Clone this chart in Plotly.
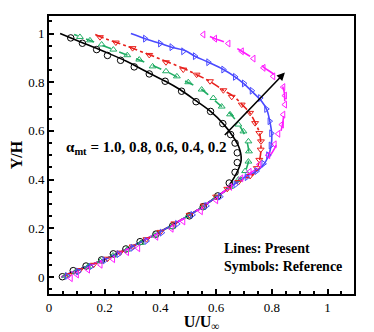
import plotly.graph_objects as go

# Lines (present) -- U/U_inf and Y/H, wall -> top
u_line_10 = [0.045, 0.09, 0.14, 0.19, 0.24, 0.29, 0.34, 0.39, 0.44, 0.49, 0.54, 0.59, 0.63,
             0.652, 0.675, 0.69, 0.683, 0.66, 0.625, 0.58, 0.53, 0.47, 0.42, 0.36, 0.28, 0.2, 0.12, 0.04]
y_line_10 = [0.0, 0.022, 0.045, 0.068, 0.093, 0.12, 0.15, 0.18, 0.212, 0.245, 0.28, 0.32, 0.352,
             0.385, 0.43, 0.48, 0.53, 0.578, 0.63, 0.68, 0.722, 0.77, 0.803, 0.837, 0.885, 0.925, 0.962, 1.0]

u_line_08 = [0.045, 0.09, 0.14, 0.19, 0.24, 0.29, 0.34, 0.39, 0.44, 0.49, 0.54, 0.59, 0.63,
             0.665, 0.695, 0.71, 0.718, 0.714, 0.698, 0.68, 0.65, 0.615, 0.58, 0.548, 0.48, 0.42,
             0.32, 0.23, 0.15, 0.09]
y_line_08 = [0.0, 0.022, 0.045, 0.068, 0.093, 0.12, 0.15, 0.18, 0.212, 0.245, 0.28, 0.32, 0.352,
             0.385, 0.415, 0.45, 0.49, 0.54, 0.595, 0.628, 0.672, 0.705, 0.74, 0.77, 0.81, 0.845,
             0.893, 0.934, 0.97, 0.996]

u_line_06 = [0.045, 0.09, 0.14, 0.19, 0.24, 0.29, 0.34, 0.39, 0.44, 0.49, 0.54, 0.59, 0.63,
             0.67, 0.705, 0.733, 0.748, 0.757, 0.761, 0.756, 0.742, 0.722, 0.695, 0.665, 0.626,
             0.578, 0.53, 0.48, 0.38, 0.27, 0.2, 0.158]
y_line_06 = [0.0, 0.022, 0.045, 0.068, 0.093, 0.12, 0.15, 0.18, 0.212, 0.245, 0.28, 0.32, 0.352,
             0.385, 0.405, 0.42, 0.45, 0.485, 0.53, 0.59, 0.63, 0.672, 0.706, 0.74, 0.767,
             0.803, 0.831, 0.858, 0.904, 0.952, 0.98, 1.0]

u_line_04 = [0.045, 0.09, 0.14, 0.19, 0.24, 0.29, 0.34, 0.39, 0.44, 0.49, 0.54, 0.59, 0.63,
             0.67, 0.71, 0.746, 0.77, 0.787, 0.797, 0.8, 0.794, 0.782, 0.764, 0.734, 0.698, 0.668,
             0.626, 0.572, 0.524, 0.488, 0.44, 0.4, 0.345, 0.294]
y_line_04 = [0.0, 0.022, 0.045, 0.068, 0.093, 0.12, 0.15, 0.18, 0.212, 0.245, 0.28, 0.32, 0.352,
             0.385, 0.415, 0.435, 0.461, 0.495, 0.536, 0.584, 0.632, 0.687, 0.721, 0.756, 0.795, 0.822,
             0.852, 0.882, 0.907, 0.93, 0.944, 0.959, 0.979, 1.0]

u_line_02 = [0.045, 0.09, 0.14, 0.19, 0.24, 0.29, 0.34, 0.39, 0.44, 0.49, 0.54, 0.59, 0.63,
             0.67, 0.692, 0.722, 0.758, 0.787, 0.811, 0.828, 0.838, 0.843, 0.846, 0.845, 0.832,
             0.81, 0.77, 0.734, 0.692, 0.644, 0.596, 0.553]
y_line_02 = [0.0, 0.022, 0.045, 0.068, 0.093, 0.12, 0.15, 0.18, 0.212, 0.245, 0.28, 0.32, 0.352,
             0.385, 0.406, 0.427, 0.454, 0.488, 0.53, 0.58, 0.626, 0.667, 0.71, 0.756, 0.8,
             0.83, 0.862, 0.897, 0.927, 0.959, 0.979, 1.0]

# Symbols (reference)
u_ref_10 = [0.048, 0.087, 0.133, 0.189, 0.231, 0.276, 0.327, 0.384, 0.444, 0.504, 0.554, 0.606, 0.647,
            0.668, 0.676, 0.676, 0.668, 0.652, 0.624, 0.58, 0.528, 0.476, 0.417, 0.36, 0.306, 0.257,
            0.21, 0.171, 0.12, 0.078]
y_ref_10 = [0.001, 0.026, 0.045, 0.07, 0.095, 0.115, 0.145, 0.176, 0.21, 0.251, 0.289, 0.333, 0.386,
            0.43, 0.47, 0.51, 0.55, 0.585, 0.63, 0.68, 0.72, 0.763, 0.804, 0.834, 0.863, 0.89,
            0.91, 0.934, 0.96, 0.982]

u_ref_08 = [0.06, 0.095, 0.14, 0.185, 0.23, 0.28, 0.33, 0.38, 0.44, 0.5, 0.55, 0.6, 0.65, 0.68,
            0.704, 0.716, 0.718, 0.716, 0.698, 0.68, 0.65, 0.62, 0.59, 0.548, 0.5, 0.459, 0.42,
            0.372, 0.324, 0.281, 0.231, 0.189, 0.147, 0.111]
y_ref_08 = [0.005, 0.02, 0.042, 0.065, 0.088, 0.112, 0.14, 0.17, 0.205, 0.25, 0.285, 0.325, 0.37, 0.4,
            0.435, 0.474, 0.516, 0.557, 0.598, 0.626, 0.668, 0.7, 0.735, 0.77, 0.8, 0.824, 0.845,
            0.865, 0.893, 0.911, 0.934, 0.955, 0.972, 0.986]

u_ref_06 = [0.07, 0.11, 0.16, 0.21, 0.255, 0.3, 0.35, 0.4, 0.45, 0.505, 0.555, 0.6, 0.64, 0.68,
            0.722, 0.746, 0.755, 0.76, 0.761, 0.755, 0.74, 0.722, 0.692, 0.656, 0.626, 0.578,
            0.53, 0.482, 0.42, 0.36, 0.3, 0.24, 0.183]
y_ref_06 = [0.008, 0.028, 0.05, 0.075, 0.1, 0.125, 0.155, 0.185, 0.22, 0.255, 0.293, 0.33, 0.362, 0.39,
            0.415, 0.447, 0.481, 0.523, 0.557, 0.591, 0.632, 0.674, 0.708, 0.74, 0.767, 0.804,
            0.831, 0.852, 0.882, 0.912, 0.94, 0.963, 0.985]

u_ref_04 = [0.065, 0.105, 0.15, 0.2, 0.25, 0.3, 0.35, 0.405, 0.46, 0.515, 0.565, 0.615, 0.67, 0.71,
            0.745, 0.77, 0.787, 0.796, 0.798, 0.792, 0.78, 0.758, 0.728, 0.7, 0.668, 0.626, 0.572,
            0.524, 0.482, 0.44, 0.399, 0.345]
y_ref_04 = [0.004, 0.022, 0.042, 0.068, 0.094, 0.12, 0.148, 0.182, 0.218, 0.255, 0.292, 0.33, 0.38, 0.41,
            0.435, 0.465, 0.5, 0.54, 0.59, 0.64, 0.69, 0.735, 0.765, 0.795, 0.822, 0.852, 0.882,
            0.907, 0.927, 0.944, 0.959, 0.979]

u_ref_02 = [0.078, 0.1, 0.14, 0.185, 0.23, 0.28, 0.32, 0.385, 0.44, 0.482, 0.545, 0.6, 0.65, 0.69,
            0.72, 0.755, 0.787, 0.81, 0.823, 0.836, 0.841, 0.847, 0.847, 0.841, 0.805, 0.77, 0.734,
            0.692, 0.644, 0.596, 0.554]
y_ref_02 = [-0.005, 0.01, 0.03, 0.05, 0.073, 0.102, 0.118, 0.165, 0.198, 0.228, 0.27, 0.315, 0.37, 0.405,
            0.432, 0.462, 0.5, 0.545, 0.588, 0.626, 0.667, 0.708, 0.745, 0.78, 0.824, 0.859, 0.897,
            0.927, 0.959, 0.979, 0.996]

colors = ["#000000", "#20ad64", "#e8201c", "#4a4aff", "#ff1cff"]
dashes = ["solid", "dash", "dashdot", "solid", "longdash"]
symbols = ["circle-open", "triangle-up-open", "triangle-down-open", "triangle-right-open", "triangle-left-open"]
sizes = [6.5, 6, 6, 6, 6]

lines = [(u_line_10, y_line_10), (u_line_08, y_line_08), (u_line_06, y_line_06),
         (u_line_04, y_line_04), (u_line_02, y_line_02)]
refs = [(u_ref_10, y_ref_10), (u_ref_08, y_ref_08), (u_ref_06, y_ref_06),
        (u_ref_04, y_ref_04), (u_ref_02, y_ref_02)]

serif = "Liberation Serif"

fig = go.Figure()

for (u, y), c, d in zip(lines, colors, dashes):
    fig.add_trace(go.Scatter(x=u, y=y, mode="lines", line=dict(color=c, width=1.6, dash=d, shape="spline"),
                             showlegend=False))

for (u, y), c, s, sz in zip(refs, colors, symbols, sizes):
    fig.add_trace(go.Scatter(x=u, y=y, mode="markers",
                             marker=dict(symbol=s, size=sz, color=c, line=dict(color=c, width=1)),
                             showlegend=False))

# Arrow showing increasing alpha_mt direction
fig.add_annotation(x=0.847, y=0.84, ax=0.626, ay=0.577, xref="x", yref="y", axref="x", ayref="y",
                   text="", showarrow=True, arrowhead=2, arrowsize=1, arrowwidth=1.6, arrowcolor="black")

fig.add_annotation(x=0.055, y=0.53, xref="x", yref="y", xanchor="left", yanchor="middle", showarrow=False,
                   text="<b>α<sub>mt</sub> = 1.0, 0.8, 0.6, 0.4, 0.2</b>",
                   font=dict(family=serif, size=15, color="black"))

fig.add_annotation(x=0.62, y=0.082, xref="x", yref="y", xanchor="left", yanchor="middle", showarrow=False,
                   align="left", text="<b>Lines: Present<br>Symbols: Reference</b>",
                   font=dict(family=serif, size=14, color="black"))

# page body adds an 8px offset, so the figure is sized 8px smaller each way
fig.update_layout(
    width=366, height=324,
    margin=dict(l=41, r=20, t=8, b=38),
    plot_bgcolor="white", paper_bgcolor="white",
    font=dict(family=serif, size=13, color="black"),
)
fig.update_xaxes(
    range=[0, 1.095], tickvals=[0, 0.2, 0.4, 0.6, 0.8, 1], ticktext=["0", "0.2", "0.4", "0.6", "0.8", "1"],
    ticks="inside", ticklen=5, tickwidth=1.5, tickcolor="black",
    minor=dict(dtick=0.05, ticks="inside", ticklen=3, tickcolor="black"),
    showline=True, linewidth=2, linecolor="black", mirror=True, showgrid=False, zeroline=False,
    automargin=False, tickfont=dict(family=serif, size=13),
    title=dict(text="<b>U/U<sub>∞</sub></b>", font=dict(family=serif, size=16), standoff=4),
)
fig.update_yaxes(
    range=[-0.07, 1.072], tickvals=[0, 0.2, 0.4, 0.6, 0.8, 1], ticktext=["0", "0.2", "0.4", "0.6", "0.8", "1"],
    ticks="inside", ticklen=5, tickwidth=1.5, tickcolor="black",
    minor=dict(dtick=0.05, ticks="inside", ticklen=3, tickcolor="black"),
    showline=True, linewidth=2, linecolor="black", mirror=True, showgrid=False, zeroline=False,
    automargin=False, tickfont=dict(family=serif, size=13),
    title=dict(text="<b>Y/H</b>", font=dict(family=serif, size=16), standoff=4),
)

fig.write_html("out.html")
